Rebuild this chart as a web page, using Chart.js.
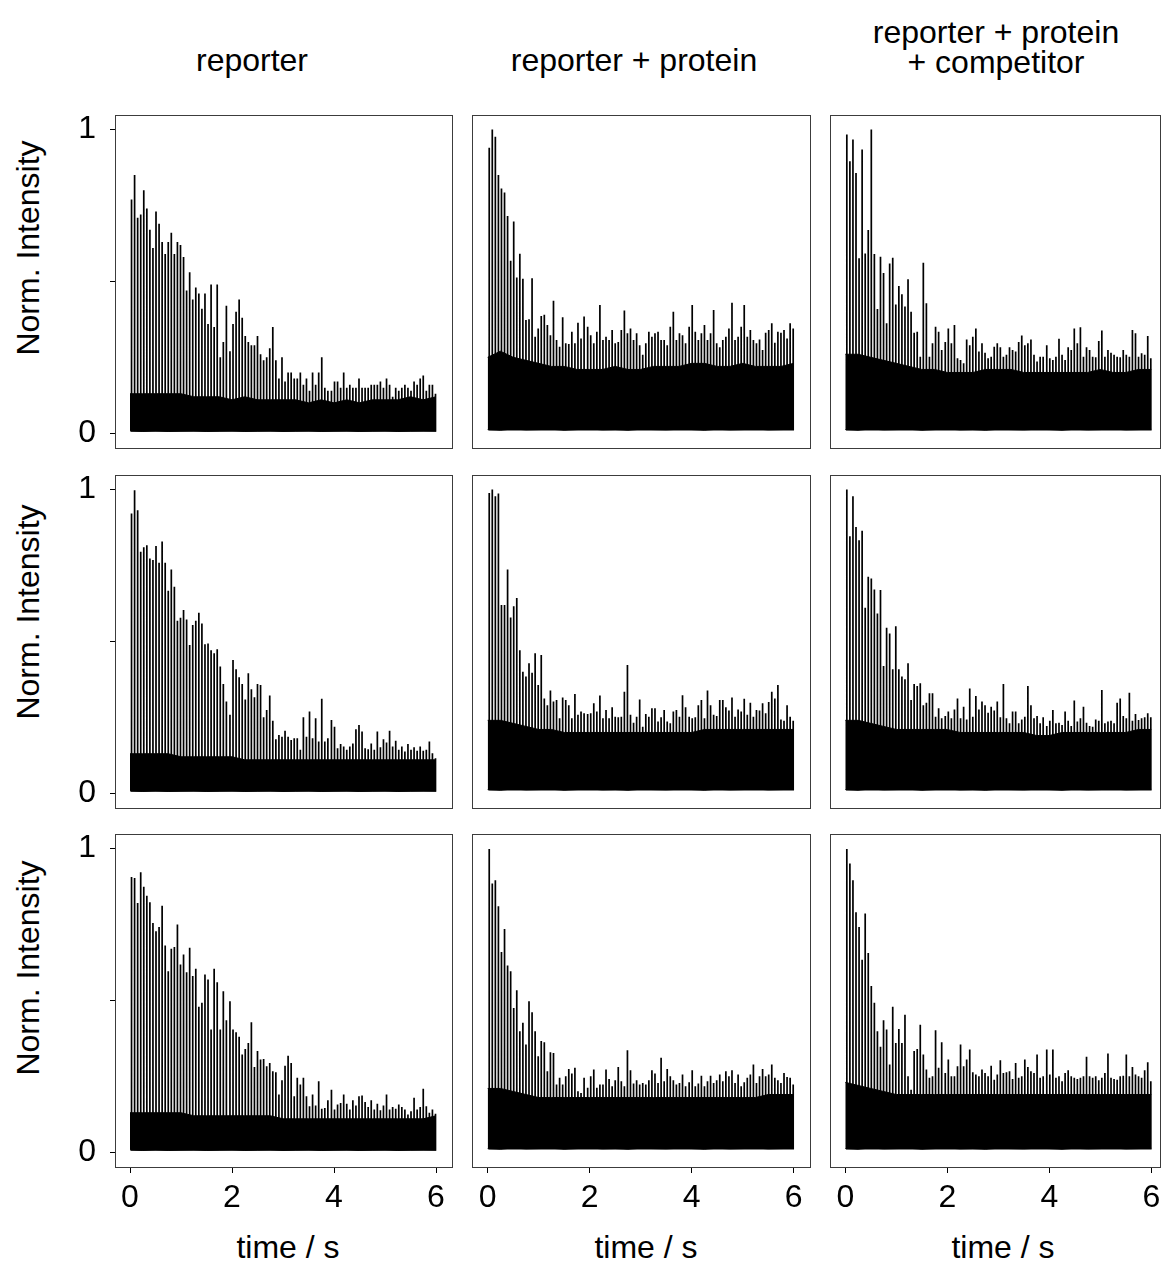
<!DOCTYPE html>
<html><head><meta charset="utf-8">
<script src="https://cdn.jsdelivr.net/npm/chart.js@4.4.1/dist/chart.umd.min.js"></script>
<style>
html,body{margin:0;padding:0;background:#fff;overflow:hidden;}
body{width:1162px;height:1268px;position:relative;font-family:"Liberation Sans",Arial,sans-serif;}
.lbl{position:absolute;font-size:32px;color:#000;white-space:nowrap;line-height:32px;transform:translateX(-50%);}
.rot{position:absolute;font-size:32px;color:#000;white-space:nowrap;line-height:32px;transform:translate(-50%,-50%) rotate(-90deg);}
canvas{position:absolute;}
</style></head><body>
<div class="lbl" style="left:252px;top:44px">reporter</div>
<div class="lbl" style="left:634px;top:44px">reporter + protein</div>
<div class="lbl" style="left:996px;top:16px">reporter + protein</div>
<div class="lbl" style="left:996px;top:46px">+ competitor</div>
<div class="rot" style="left:28px;top:248px">Norm. Intensity</div>
<div class="rot" style="left:28px;top:612px">Norm. Intensity</div>
<div class="rot" style="left:28px;top:968px">Norm. Intensity</div>
<div class="lbl" style="left:288px;top:1231px">time / s</div>
<div class="lbl" style="left:646px;top:1231px">time / s</div>
<div class="lbl" style="left:1003px;top:1231px">time / s</div>
<script>
// ---- data ----
const columns = ["reporter", "reporter + protein", "reporter + protein + competitor"];
const xTicks = [0, 2, 4, 6];
const yTicks = [0, 0.5, 1];
const yTickLabels = {0: "0", 0.5: "", 1: "1"};

// times (s) of the periodic intensity spikes
const spikeTimes = [0.03,0.09,0.15,0.21,0.27,0.33,0.39,0.45,0.51,0.57,
0.63,0.69,0.75,0.81,0.87,0.93,0.99,1.05,1.11,1.17,
1.23,1.29,1.35,1.41,1.47,1.53,1.59,1.65,1.71,1.77,
1.83,1.89,1.96,2.02,2.08,2.14,2.20,2.26,2.32,2.38,
2.44,2.50,2.56,2.62,2.68,2.74,2.80,2.86,2.92,2.98,
3.04,3.10,3.16,3.22,3.28,3.34,3.40,3.46,3.52,3.58,
3.64,3.70,3.76,3.82,3.88,3.95,4.01,4.07,4.13,4.19,
4.25,4.31,4.37,4.43,4.49,4.55,4.61,4.67,4.73,4.79,
4.85,4.91,4.97,5.03,5.09,5.15,5.21,5.27,5.33,5.39,
5.45,5.51,5.57,5.63,5.69,5.75,5.81,5.87,5.93,5.99];

const peaks_r1_reporter = [0.77,0.85,0.71,0.72,0.80,0.74,0.67,0.61,0.73,0.69,
0.63,0.59,0.63,0.66,0.59,0.63,0.62,0.58,0.47,0.53,
0.44,0.48,0.46,0.41,0.46,0.36,0.49,0.35,0.49,0.25,
0.30,0.42,0.27,0.36,0.40,0.44,0.38,0.32,0.30,0.29,
0.29,0.32,0.26,0.24,0.25,0.28,0.35,0.24,0.18,0.25,
0.17,0.20,0.20,0.18,0.18,0.20,0.16,0.18,0.14,0.20,
0.16,0.20,0.25,0.15,0.14,0.14,0.17,0.17,0.15,0.20,
0.15,0.16,0.15,0.15,0.18,0.15,0.15,0.15,0.16,0.16,
0.16,0.17,0.15,0.18,0.16,0.12,0.15,0.14,0.15,0.16,
0.15,0.14,0.17,0.16,0.18,0.19,0.14,0.16,0.16,0.13];
const peaks_r1_protein = [0.94,1.00,0.976,0.85,0.806,0.793,0.715,0.568,0.697,0.513,
0.591,0.509,0.373,0.375,0.51,0.318,0.345,0.386,0.39,0.356,
0.323,0.436,0.307,0.285,0.382,0.296,0.294,0.334,0.296,0.364,
0.312,0.384,0.351,0.323,0.296,0.334,0.422,0.307,0.318,0.307,
0.34,0.296,0.30,0.34,0.404,0.329,0.345,0.307,0.329,0.29,
0.258,0.296,0.334,0.318,0.329,0.334,0.307,0.307,0.29,0.351,
0.40,0.307,0.329,0.323,0.296,0.351,0.422,0.334,0.307,0.329,
0.356,0.307,0.329,0.406,0.296,0.283,0.307,0.318,0.345,0.43,
0.307,0.318,0.351,0.422,0.318,0.34,0.307,0.296,0.309,0.274,
0.331,0.34,0.362,0.298,0.334,0.331,0.34,0.312,0.362,0.345];
const peaks_r1_competitor = [0.984,0.896,0.967,0.857,0.576,0.934,0.592,0.669,1.0,0.59,
0.409,0.581,0.528,0.362,0.559,0.578,0.424,0.485,0.458,0.417,
0.507,0.40,0.331,0.334,0.252,0.561,0.428,0.252,0.296,0.351,
0.334,0.274,0.30,0.345,0.296,0.356,0.247,0.241,0.23,0.309,
0.29,0.318,0.345,0.269,0.296,0.265,0.247,0.252,0.285,0.296,
0.283,0.252,0.258,0.283,0.274,0.269,0.30,0.322,0.29,0.296,
0.309,0.258,0.236,0.252,0.252,0.29,0.247,0.241,0.252,0.311,
0.258,0.241,0.283,0.274,0.345,0.296,0.349,0.252,0.283,0.274,
0.252,0.25,0.304,0.338,0.252,0.274,0.265,0.258,0.252,0.25,
0.274,0.258,0.252,0.34,0.329,0.252,0.263,0.258,0.32,0.247];
const peaks_r2_reporter = [0.921,0.998,0.932,0.795,0.81,0.817,0.773,0.768,0.814,0.759,
0.829,0.759,0.667,0.737,0.68,0.568,0.578,0.603,0.572,0.488,
0.554,0.568,0.594,0.559,0.491,0.493,0.471,0.461,0.474,0.417,
0.36,0.302,0.258,0.439,0.408,0.382,0.36,0.309,0.395,0.342,
0.316,0.36,0.356,0.25,0.274,0.322,0.239,0.178,0.192,0.186,
0.206,0.186,0.175,0.181,0.181,0.143,0.25,0.186,0.269,0.181,
0.247,0.17,0.311,0.17,0.181,0.241,0.219,0.148,0.162,0.154,
0.143,0.154,0.164,0.211,0.225,0.203,0.148,0.145,0.164,0.143,
0.203,0.151,0.178,0.167,0.206,0.154,0.173,0.143,0.154,0.137,
0.162,0.143,0.151,0.14,0.154,0.14,0.143,0.17,0.132,0.115];
const peaks_r2_protein = [0.989,1.0,0.978,0.987,0.62,0.62,0.737,0.579,0.616,0.643,
0.471,0.40,0.384,0.428,0.397,0.461,0.356,0.455,0.312,0.29,
0.338,0.302,0.307,0.247,0.315,0.307,0.29,0.247,0.327,0.258,
0.269,0.263,0.261,0.263,0.296,0.269,0.322,0.247,0.274,0.247,
0.283,0.252,0.25,0.252,0.334,0.422,0.258,0.232,0.252,0.309,
0.219,0.261,0.252,0.28,0.28,0.236,0.25,0.274,0.236,0.23,
0.269,0.274,0.252,0.323,0.283,0.252,0.247,0.25,0.29,0.307,
0.247,0.338,0.29,0.258,0.254,0.307,0.307,0.283,0.272,0.315,
0.252,0.276,0.269,0.311,0.258,0.298,0.252,0.274,0.272,0.296,
0.263,0.30,0.334,0.312,0.356,0.243,0.239,0.29,0.252,0.239];
const peaks_r2_competitor = [1.0,0.846,0.978,0.877,0.833,0.864,0.611,0.713,0.707,0.671,
0.592,0.669,0.419,0.545,0.526,0.408,0.55,0.408,0.384,0.375,
0.428,0.307,0.36,0.353,0.362,0.29,0.298,0.329,0.329,0.252,
0.28,0.247,0.254,0.269,0.247,0.276,0.312,0.247,0.285,0.243,
0.345,0.252,0.32,0.276,0.302,0.29,0.265,0.285,0.272,0.302,
0.25,0.36,0.247,0.23,0.269,0.269,0.23,0.243,0.252,0.353,
0.29,0.247,0.254,0.23,0.25,0.221,0.239,0.274,0.23,0.232,
0.225,0.269,0.239,0.221,0.305,0.236,0.247,0.285,0.232,0.221,
0.219,0.243,0.239,0.34,0.23,0.236,0.239,0.23,0.298,0.312,
0.254,0.247,0.331,0.239,0.261,0.241,0.247,0.25,0.263,0.25];
const peaks_r3_reporter = [0.906,0.903,0.821,0.922,0.874,0.845,0.823,0.755,0.728,0.742,
0.812,0.681,0.596,0.67,0.676,0.75,0.618,0.651,0.593,0.673,
0.58,0.604,0.479,0.492,0.585,0.569,0.404,0.604,0.56,0.404,
0.53,0.435,0.497,0.404,0.395,0.38,0.322,0.34,0.36,0.428,
0.281,0.333,0.305,0.307,0.283,0.294,0.267,0.263,0.19,0.237,
0.285,0.318,0.294,0.184,0.245,0.223,0.245,0.184,0.151,0.19,
0.154,0.234,0.143,0.146,0.171,0.206,0.141,0.157,0.162,0.19,
0.16,0.141,0.171,0.154,0.184,0.187,0.165,0.149,0.171,0.141,
0.16,0.138,0.154,0.19,0.141,0.149,0.143,0.157,0.149,0.141,
0.124,0.135,0.179,0.141,0.149,0.209,0.151,0.13,0.141,0.127];
const peaks_r3_protein = [0.999,0.885,0.896,0.81,0.659,0.735,0.615,0.596,0.475,0.533,
0.398,0.426,0.355,0.497,0.461,0.398,0.316,0.366,0.362,0.267,
0.329,0.327,0.223,0.245,0.223,0.25,0.274,0.259,0.278,0.201,
0.195,0.245,0.212,0.25,0.272,0.212,0.223,0.223,0.272,0.241,
0.217,0.237,0.281,0.234,0.217,0.336,0.27,0.226,0.237,0.223,
0.228,0.223,0.237,0.27,0.259,0.228,0.311,0.234,0.274,0.25,
0.237,0.223,0.228,0.256,0.217,0.23,0.27,0.217,0.226,0.252,
0.217,0.234,0.252,0.228,0.237,0.256,0.234,0.267,0.25,0.27,
0.228,0.256,0.217,0.23,0.245,0.256,0.289,0.228,0.25,0.274,
0.25,0.256,0.289,0.245,0.237,0.228,0.261,0.248,0.245,0.223];
const peaks_r3_competitor = [0.999,0.951,0.896,0.79,0.742,0.634,0.786,0.656,0.547,0.492,
0.398,0.347,0.435,0.404,0.289,0.479,0.36,0.406,0.36,0.453,
0.25,0.206,0.333,0.34,0.42,0.322,0.272,0.245,0.25,0.402,
0.278,0.362,0.261,0.305,0.25,0.25,0.283,0.355,0.283,0.305,
0.338,0.263,0.256,0.25,0.272,0.261,0.25,0.285,0.239,0.256,
0.303,0.261,0.263,0.267,0.241,0.294,0.245,0.25,0.305,0.281,
0.267,0.261,0.322,0.245,0.25,0.338,0.256,0.338,0.245,0.25,
0.234,0.261,0.27,0.25,0.245,0.241,0.245,0.25,0.314,0.25,
0.245,0.25,0.237,0.245,0.261,0.325,0.245,0.241,0.239,0.25,
0.252,0.322,0.25,0.281,0.256,0.25,0.245,0.27,0.296,0.234];

// dense background noise band: upper / lower envelope sampled every 0.25 s
const bandTimes = [0,0.25,0.5,0.75,1,1.25,1.5,1.75,2,2.25,2.5,2.75,3,3.25,3.5,3.75,4,4.25,4.5,4.75,5,5.25,5.5,5.75,6];
const bandLow_reporter = [0.008,0.006,0.008,0.006,0.007,0.008,0.006,0.007,0.008,0.006,0.007,0.008,0.006,0.007,0.008,0.006,0.007,0.008,0.006,0.007,0.008,0.006,0.007,0.008,0.007];
const bandLow_protein = [0.012,0.010,0.014,0.011,0.012,0.013,0.010,0.012,0.014,0.011,0.012,0.010,0.013,0.012,0.011,0.013,0.012,0.010,0.013,0.011,0.012,0.014,0.011,0.012,0.013];
const bandTop_r1_reporter = [0.13,0.13,0.13,0.13,0.13,0.12,0.12,0.12,0.11,0.12,0.11,0.11,0.11,0.11,0.10,0.11,0.10,0.11,0.10,0.11,0.11,0.11,0.12,0.11,0.12];
const bandTop_r1_protein = [0.25,0.27,0.25,0.24,0.23,0.22,0.22,0.21,0.21,0.21,0.22,0.21,0.21,0.22,0.22,0.22,0.23,0.23,0.22,0.22,0.23,0.22,0.22,0.22,0.23];
const bandTop_r1_competitor = [0.26,0.26,0.25,0.24,0.23,0.22,0.21,0.21,0.20,0.20,0.20,0.21,0.21,0.21,0.20,0.20,0.20,0.20,0.20,0.20,0.21,0.20,0.20,0.21,0.21];
const bandTop_r2_reporter = [0.13,0.13,0.13,0.13,0.12,0.12,0.12,0.12,0.12,0.11,0.11,0.11,0.11,0.11,0.11,0.11,0.11,0.11,0.11,0.11,0.11,0.11,0.11,0.11,0.11];
const bandTop_r2_protein = [0.24,0.24,0.23,0.22,0.21,0.21,0.20,0.20,0.20,0.20,0.20,0.20,0.20,0.20,0.20,0.20,0.20,0.21,0.21,0.21,0.21,0.21,0.21,0.21,0.21];
const bandTop_r2_competitor = [0.24,0.24,0.23,0.22,0.21,0.21,0.21,0.21,0.21,0.20,0.20,0.20,0.20,0.20,0.20,0.19,0.19,0.20,0.20,0.20,0.20,0.20,0.20,0.21,0.21];
const bandTop_r3_reporter = [0.13,0.13,0.13,0.13,0.13,0.12,0.12,0.12,0.12,0.12,0.12,0.12,0.11,0.11,0.11,0.11,0.11,0.11,0.11,0.11,0.11,0.11,0.11,0.11,0.12];
const bandTop_r3_protein = [0.21,0.21,0.20,0.19,0.18,0.18,0.18,0.18,0.18,0.18,0.18,0.18,0.18,0.18,0.18,0.18,0.18,0.18,0.18,0.18,0.18,0.18,0.19,0.19,0.19];
const bandTop_r3_competitor = [0.23,0.22,0.21,0.20,0.19,0.19,0.19,0.19,0.19,0.19,0.19,0.19,0.19,0.19,0.19,0.19,0.19,0.19,0.19,0.19,0.19,0.19,0.19,0.19,0.19];

const panels = [
  [ {peaks: peaks_r1_reporter, top: bandTop_r1_reporter, low: bandLow_reporter},
    {peaks: peaks_r1_protein, top: bandTop_r1_protein, low: bandLow_protein},
    {peaks: peaks_r1_competitor, top: bandTop_r1_competitor, low: bandLow_protein} ],
  [ {peaks: peaks_r2_reporter, top: bandTop_r2_reporter, low: bandLow_reporter},
    {peaks: peaks_r2_protein, top: bandTop_r2_protein, low: bandLow_protein},
    {peaks: peaks_r2_competitor, top: bandTop_r2_competitor, low: bandLow_protein} ],
  [ {peaks: peaks_r3_reporter, top: bandTop_r3_reporter, low: bandLow_reporter},
    {peaks: peaks_r3_protein, top: bandTop_r3_protein, low: bandLow_protein},
    {peaks: peaks_r3_competitor, top: bandTop_r3_competitor, low: bandLow_protein} ]
];

// ---- layout ----
const colBox = [[115, 453], [472, 811], [830, 1161]];
const colZero = [130, 487.7, 845.3];
const pxPerSec = 51.0;
const rowBox = [[115, 449], [475, 809], [834, 1168]];
const yMin = -0.052, yMax = 1.048;
const M = 44; // canvas margin around plot box

const framePlugin = {
  id: 'frame',
  afterDraw(chart) {
    const a = chart.chartArea, ctx = chart.ctx;
    ctx.save();
    ctx.strokeStyle = '#3c3c3c';
    ctx.lineWidth = 1;
    ctx.strokeRect(Math.round(a.left) + 0.5, Math.round(a.top) + 0.5,
                   Math.round(a.right - a.left) - 1, Math.round(a.bottom - a.top) - 1);
    ctx.restore();
  }
};

for (let r = 0; r < 3; r++) {
  for (let c = 0; c < 3; c++) {
    const p = panels[r][c];
    const [bl, br] = colBox[c];
    const [bt, bb] = rowBox[r];
    const showY = c === 0, showX = r === 2;
    const left = showY ? 0 : bl - M;
    const top = bt - M;
    const right = br + M;
    const bottom = showX ? 1236 : bb + M;
    const W = right - left, H = bottom - top;
    const cv = document.createElement('canvas');
    cv.width = W; cv.height = H;
    cv.style.left = left + 'px'; cv.style.top = top + 'px';
    cv.style.width = W + 'px'; cv.style.height = H + 'px';
    document.body.appendChild(cv);

    const spikePts = [];
    const base = p.low[0];
    spikeTimes.forEach((t, i) => {
      spikePts.push({x: t, y: base}, {x: t, y: p.peaks[i]}, {x: t, y: base});
    });
    const lowPts = bandTimes.map((t, i) => ({x: t, y: p.low[i]}));
    const topPts = bandTimes.map((t, i) => ({x: t, y: p.top[i]}));

    new Chart(cv, {
      type: 'line',
      data: {
        datasets: [
          {data: lowPts, borderColor: '#000', borderWidth: 1, pointRadius: 0, fill: false, tension: 0},
          {data: topPts, borderColor: '#000', borderWidth: 1, pointRadius: 0, fill: '-1', backgroundColor: '#000', tension: 0},
          {data: spikePts, borderColor: '#000', borderWidth: 1.7, pointRadius: 0, fill: false, tension: 0}
        ]
      },
      options: {
        responsive: false, animation: false, devicePixelRatio: 1,
        layout: {padding: {left: showY ? 0 : M, right: M, top: M, bottom: showX ? 0 : M}},
        plugins: {legend: {display: false}, tooltip: {enabled: false}},
        events: [],
        scales: {
          x: {
            type: 'linear', display: showX,
            min: (bl - colZero[c]) / pxPerSec, max: (br - colZero[c]) / pxPerSec,
            afterBuildTicks: s => { s.ticks = xTicks.map(v => ({value: v})); },
            afterFit: s => { if (showX) s.height = bottom - bb; },
            grid: {drawOnChartArea: false, drawTicks: true, tickLength: 5, color: '#000', lineWidth: 1},
            border: {display: false},
            ticks: {color: '#000', font: {family: 'Liberation Sans', size: 32}, padding: 6, maxRotation: 0,
                    callback: v => String(v)}
          },
          y: {
            type: 'linear', display: showY,
            min: yMin, max: yMax,
            afterBuildTicks: s => { s.ticks = yTicks.map(v => ({value: v})); },
            afterFit: s => { if (showY) s.width = bl; },
            grid: {drawOnChartArea: false, drawTicks: true, tickLength: 5, color: '#000', lineWidth: 1},
            border: {display: false},
            ticks: {color: '#000', font: {family: 'Liberation Sans', size: 32}, padding: 14,
                    callback: v => yTickLabels[v] !== undefined ? yTickLabels[v] : ''}
          }
        }
      },
      plugins: [framePlugin]
    });
  }
}
</script>
</body></html>
